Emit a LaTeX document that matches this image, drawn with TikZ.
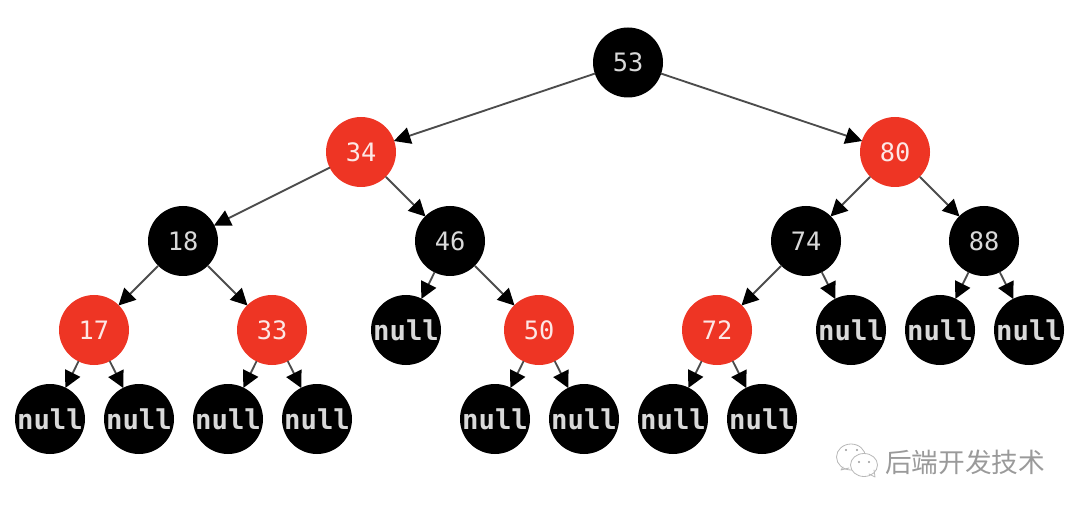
\documentclass[tikz,border=0pt]{standalone}
\usepackage{fontspec}
\setmonofont{DejaVu Sans Mono}
\newfontfamily\cjkfont{Noto Sans CJK SC}
\usetikzlibrary{arrows.meta}
\definecolor{rbred}{HTML}{EE3524}
\definecolor{markgray}{HTML}{9A9A9A}
\tikzset{
    treenode/.style={circle, inner sep=0pt, minimum size=52.5pt, text=white, font=\ttfamily\fontsize{19}{19}\selectfont},
    blacknode/.style={treenode, fill=black, text=white!85!black},
    rednode/.style={treenode, fill=rbred, text=white!88!rbred},
    nullnode/.style={blacknode, font=\ttfamily\bfseries\fontsize{20.5}{20.5}\selectfont},
    edge/.style={draw=black!70, line width=1.4pt, -{Triangle[length=12.5pt, width=12.5pt, color=black]}, shorten >=-0.5pt}
}
\begin{document}
\begin{tikzpicture}[x=0.75pt, y=-0.75pt, line cap=round, line join=round]
    \useasboundingbox (0,0) rectangle (1080,509);
    % Black keys
    \foreach \n/\x/\y in {53/628/62.5, 18/183/241, 46/450/241, 74/806/241, 88/984/241}{
        \node[blacknode] (N\n) at (\x,\y) {\n};
    }
    % Red keys
    \foreach \n/\x/\y in {34/361/152, 80/895/152, 17/94/330, 33/272/330, 50/539/330, 72/717/330}{
        \node[rednode] (N\n) at (\x,\y) {\n};
    }
    % Null leaves
    \foreach \n/\x/\y in {a/50/419, b/139/419, c/228/419, d/317/419, e/406/330, f/495/419, g/584/419,
        h/673/419, i/762/419, j/851/330, k/940/330, l/1029/330}{
        \node[nullnode] (L\n) at (\x,\y) {null};
    }
    % Edges
    \foreach \a/\b in {N53/N34, N53/N80, N34/N18, N34/N46, N80/N74, N80/N88,
        N18/N17, N18/N33, N46/Le, N46/N50, N74/N72, N74/Lj, N88/Lk, N88/Ll,
        N17/La, N17/Lb, N33/Lc, N33/Ld, N50/Lf, N50/Lg, N72/Lh, N72/Li}{
        \draw[edge] (\a) -- (\b);
    }
    % Watermark
    \node[text=markgray, font=\cjkfont\fontsize{20}{20}\selectfont, anchor=west, inner sep=0pt] (mark) at (885,462) {后端开发技术};
    \draw[markgray!70, line width=0.6pt, fill=white] (851,457) ellipse (14.5 and 13);
    \draw[markgray!70, line width=0.6pt] (843,467) -- (841,470) -- (849,468);
    \draw[markgray!70, line width=0.6pt, fill=white] (864,465) ellipse (13.5 and 11.5);
    \draw[markgray!70, line width=0.6pt] (869,474) -- (875,477) -- (874,470);
    \foreach \x/\y in {846/450, 857/450, 859/462, 869/462}{
        \fill[markgray] (\x,\y) circle (1.1);
    }
\end{tikzpicture}
\end{document}
